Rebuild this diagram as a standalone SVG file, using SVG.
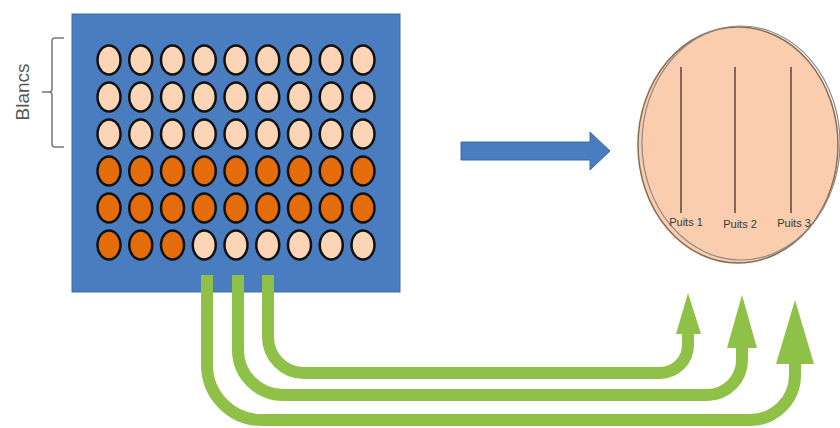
<svg xmlns="http://www.w3.org/2000/svg" width="840" height="428" viewBox="0 0 840 428">
  <style>
    .wl { fill: #FBD5B5; stroke: #111; stroke-width: 2.5; }
    .wd { fill: #E46C0A; stroke: #111; stroke-width: 2.5; }
    .tube { fill: none; stroke: #8FC148; stroke-width: 12; }
    .head { fill: #8FC148; }
    .lane { stroke: #5A4636; stroke-width: 1.5; }
    .lbl { font-family: "Liberation Sans", Arial, sans-serif; font-size: 11px; fill: #3A3A3A; text-anchor: middle; }
  </style>
  <rect width="840" height="428" fill="#FFFFFF"/>

  <g id="plate">
    <rect x="72" y="14" width="328" height="278" fill="#4A7DC0" stroke="#3C6AA6" stroke-width="1"/>
    <g id="wells">
      <g>
        <ellipse class="wl" cx="109" cy="60" rx="11.5" ry="14.5"/><ellipse class="wl" cx="140.75" cy="60" rx="11.5" ry="14.5"/><ellipse class="wl" cx="172.5" cy="60" rx="11.5" ry="14.5"/><ellipse class="wl" cx="204.25" cy="60" rx="11.5" ry="14.5"/><ellipse class="wl" cx="236" cy="60" rx="11.5" ry="14.5"/><ellipse class="wl" cx="267.75" cy="60" rx="11.5" ry="14.5"/><ellipse class="wl" cx="299.5" cy="60" rx="11.5" ry="14.5"/><ellipse class="wl" cx="331.25" cy="60" rx="11.5" ry="14.5"/><ellipse class="wl" cx="363" cy="60" rx="11.5" ry="14.5"/>
      </g>
      <g>
        <ellipse class="wl" cx="109" cy="97" rx="11.5" ry="14.5"/><ellipse class="wl" cx="140.75" cy="97" rx="11.5" ry="14.5"/><ellipse class="wl" cx="172.5" cy="97" rx="11.5" ry="14.5"/><ellipse class="wl" cx="204.25" cy="97" rx="11.5" ry="14.5"/><ellipse class="wl" cx="236" cy="97" rx="11.5" ry="14.5"/><ellipse class="wl" cx="267.75" cy="97" rx="11.5" ry="14.5"/><ellipse class="wl" cx="299.5" cy="97" rx="11.5" ry="14.5"/><ellipse class="wl" cx="331.25" cy="97" rx="11.5" ry="14.5"/><ellipse class="wl" cx="363" cy="97" rx="11.5" ry="14.5"/>
      </g>
      <g>
        <ellipse class="wl" cx="109" cy="134" rx="11.5" ry="14.5"/><ellipse class="wl" cx="140.75" cy="134" rx="11.5" ry="14.5"/><ellipse class="wl" cx="172.5" cy="134" rx="11.5" ry="14.5"/><ellipse class="wl" cx="204.25" cy="134" rx="11.5" ry="14.5"/><ellipse class="wl" cx="236" cy="134" rx="11.5" ry="14.5"/><ellipse class="wl" cx="267.75" cy="134" rx="11.5" ry="14.5"/><ellipse class="wl" cx="299.5" cy="134" rx="11.5" ry="14.5"/><ellipse class="wl" cx="331.25" cy="134" rx="11.5" ry="14.5"/><ellipse class="wl" cx="363" cy="134" rx="11.5" ry="14.5"/>
      </g>
      <g>
        <ellipse class="wd" cx="109" cy="171" rx="11.5" ry="14.5"/><ellipse class="wd" cx="140.75" cy="171" rx="11.5" ry="14.5"/><ellipse class="wd" cx="172.5" cy="171" rx="11.5" ry="14.5"/><ellipse class="wd" cx="204.25" cy="171" rx="11.5" ry="14.5"/><ellipse class="wd" cx="236" cy="171" rx="11.5" ry="14.5"/><ellipse class="wd" cx="267.75" cy="171" rx="11.5" ry="14.5"/><ellipse class="wd" cx="299.5" cy="171" rx="11.5" ry="14.5"/><ellipse class="wd" cx="331.25" cy="171" rx="11.5" ry="14.5"/><ellipse class="wd" cx="363" cy="171" rx="11.5" ry="14.5"/>
      </g>
      <g>
        <ellipse class="wd" cx="109" cy="208" rx="11.5" ry="14.5"/><ellipse class="wd" cx="140.75" cy="208" rx="11.5" ry="14.5"/><ellipse class="wd" cx="172.5" cy="208" rx="11.5" ry="14.5"/><ellipse class="wd" cx="204.25" cy="208" rx="11.5" ry="14.5"/><ellipse class="wd" cx="236" cy="208" rx="11.5" ry="14.5"/><ellipse class="wd" cx="267.75" cy="208" rx="11.5" ry="14.5"/><ellipse class="wd" cx="299.5" cy="208" rx="11.5" ry="14.5"/><ellipse class="wd" cx="331.25" cy="208" rx="11.5" ry="14.5"/><ellipse class="wd" cx="363" cy="208" rx="11.5" ry="14.5"/>
      </g>
      <g>
        <ellipse class="wd" cx="109" cy="245" rx="11.5" ry="14.5"/><ellipse class="wd" cx="140.75" cy="245" rx="11.5" ry="14.5"/><ellipse class="wd" cx="172.5" cy="245" rx="11.5" ry="14.5"/><ellipse class="wl" cx="204.25" cy="245" rx="11.5" ry="14.5"/><ellipse class="wl" cx="236" cy="245" rx="11.5" ry="14.5"/><ellipse class="wl" cx="267.75" cy="245" rx="11.5" ry="14.5"/><ellipse class="wl" cx="299.5" cy="245" rx="11.5" ry="14.5"/><ellipse class="wl" cx="331.25" cy="245" rx="11.5" ry="14.5"/><ellipse class="wl" cx="363" cy="245" rx="11.5" ry="14.5"/>
      </g>
    </g>
  </g>

  <g id="blancs">
    <path d="M64,38 H55 Q52,38 52,41 V89 Q52,92 49,92 H42 M49,92 Q52,92 52,95 V144 Q52,147 55,147 H64" fill="none" stroke="#777" stroke-width="1.5"/>
    <text x="0" y="0" transform="translate(29,92) rotate(-90)" font-family="'Liberation Sans', Arial, sans-serif" font-size="19" fill="#595959" text-anchor="middle">Blancs</text>
  </g>

  <g id="transfer-arrow">
    <polygon points="461,142 590,142 590,132 610,151 590,170 590,160 461,160" fill="#4A7DC0" stroke="#3C6AA6" stroke-width="1"/>
  </g>

  <g id="dish">
    <ellipse cx="738" cy="145" rx="100" ry="118" fill="#F9CDAE" stroke="#8B6B4E" stroke-width="1.5"/>
    <ellipse cx="741" cy="143" rx="99" ry="117" fill="none" stroke="#8A8A8A" stroke-width="1.2"/>
    <line class="lane" x1="681" y1="67" x2="681" y2="213"/>
    <line class="lane" x1="735" y1="67" x2="735" y2="213"/>
    <line class="lane" x1="791" y1="67" x2="791" y2="213"/>
    <text class="lbl" x="686" y="226">Puits 1</text>
    <text class="lbl" x="740" y="228">Puits 2</text>
    <text class="lbl" x="794" y="227">Puits 3</text>
  </g>

  <g id="connectors">
    <path class="tube" d="M268,275 V337 A36,36 0 0 0 304,373 H660 A28,28 0 0 0 688,345 V330"/>
    <polygon class="head" points="676,334 688,293 701,334"/>
    <path class="tube" d="M238,275 V350 A45,45 0 0 0 283,395 H707 A35,35 0 0 0 742,360 V343"/>
    <polygon class="head" points="727,348 742,295 757,348"/>
    <path class="tube" d="M207,275 V365 A55,55 0 0 0 262,420 H750 A45,45 0 0 0 795,375 V358"/>
    <polygon class="head" points="776,364 795,300 814,364"/>
  </g>
</svg>
